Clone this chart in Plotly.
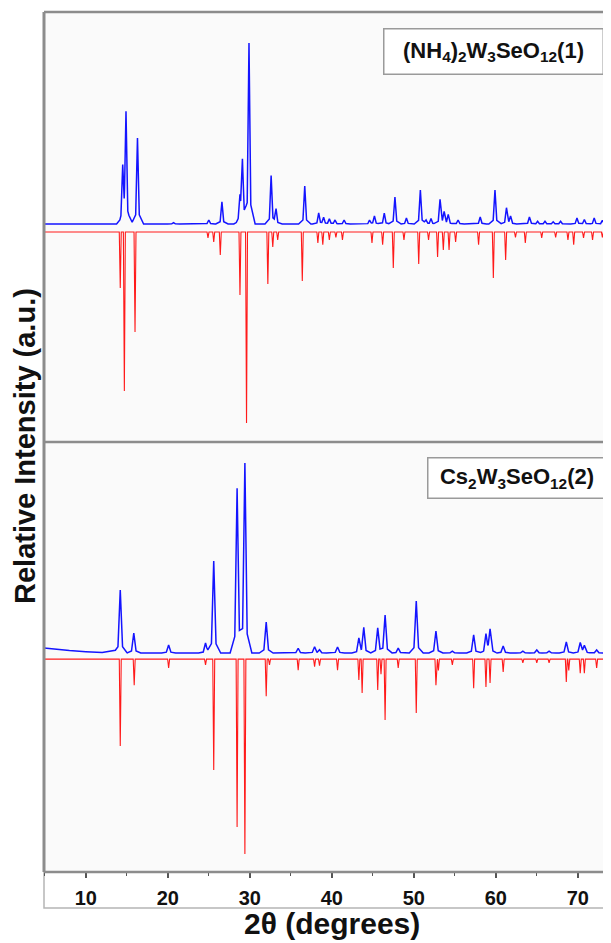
import plotly.graph_objects as go

# ---------------- data ----------------
# Panel 1: (NH4)2W3SeO12 -- observed (blue) peak positions (2theta) and relative heights
obs1_2theta = [14.5, 14.9, 16.3, 20.7, 25.0, 26.6, 28.8, 29.1, 29.9, 32.6, 33.2, 36.7,
               38.4, 39.0, 39.7, 40.4, 41.5, 44.6, 45.2, 46.4, 47.7, 49.1, 50.8, 51.5,
               52.1, 53.2, 53.7, 54.2, 55.4, 58.1, 59.9, 61.3, 61.8, 64.1, 65.1, 66.0,
               67.0, 67.9, 69.9, 70.8, 72.0, 73.0]
obs1_int = [28.7, 60.2, 47.5, 0.8, 2.2, 12.2, 13.3, 34.8, 100.0, 26.5, 7.7, 21.0,
            6.0, 3.5, 2.8, 2.2, 2.2, 2.0, 4.4, 6.0, 14.9, 3.3, 18.8, 2.0,
            3.0, 13.3, 6.0, 5.0, 2.2, 3.9, 18.8, 8.8, 4.0, 3.9, 1.5, 1.5,
            1.2, 1.5, 3.3, 2.5, 3.3, 2.0]
# Panel 1: simulated (red, drawn downward)
sim1_2theta = [14.2, 14.7, 16.0, 24.9, 25.6, 26.4, 28.8, 29.6, 32.2, 32.8, 33.4, 36.4,
               38.3, 38.9, 39.7, 40.5, 41.3, 44.9, 46.2, 47.5, 48.8, 50.6, 51.8, 52.9,
               53.6, 54.3, 55.1, 57.9, 59.7, 61.2, 62.4, 63.6, 65.6, 67.3, 68.8, 69.5,
               70.7, 71.8, 73.0]
sim1_int = [30.9, 87.8, 55.2, 3.3, 5.5, 12.7, 34.8, 105.5, 28.7, 8.3, 4.4, 27.1,
            6.0, 7.0, 4.4, 3.0, 4.4, 6.0, 7.0, 19.9, 4.4, 17.7, 4.4, 13.8,
            10.0, 10.0, 5.5, 7.0, 25.4, 15.5, 3.0, 6.0, 3.3, 3.0, 4.4, 7.0,
            3.3, 4.4, 3.0]

# Panel 2: Cs2W3SeO12 -- observed
obs2_2theta = [14.2, 15.85, 20.1, 24.6, 25.6, 28.45, 29.4, 32.0, 35.9, 37.9, 38.5, 40.7,
               43.3, 43.9, 45.6, 46.5, 48.1, 50.3, 52.7, 54.7, 57.3, 58.8, 59.3, 60.9,
               63.3, 65.0, 66.5, 68.6, 70.3, 70.8, 72.3]
obs2_int = [33.2, 10.5, 4.2, 5.3, 48.4, 86.8, 100.0, 16.3, 2.5, 3.2, 1.6, 3.2,
            7.4, 13.2, 13.2, 20.0, 2.6, 27.4, 11.6, 1.0, 9.5, 9.5, 12.1, 3.7,
            1.0, 1.6, 1.0, 5.8, 5.3, 3.7, 1.6]
# low-angle background of the observed pattern 2
bg2_2theta = [4.9, 6.0, 8.0, 10.0, 12.0, 13.6]
bg2_int = [2.6, 2.1, 1.3, 0.7, 0.25, 0.0]
# Panel 2: simulated
sim2_2theta = [14.2, 15.9, 20.1, 24.6, 25.6, 28.45, 29.4, 32.0, 32.4, 35.9, 37.9, 38.5,
               40.7, 43.3, 43.7, 45.6, 46.0, 46.5, 48.1, 50.3, 52.7, 53.0, 54.7, 57.3,
               58.8, 59.3, 60.9, 63.3, 65.0, 66.5, 68.6, 68.9, 70.3, 70.8, 72.3]
sim2_int = [45.8, 13.7, 4.7, 3.0, 58.4, 88.4, 102.6, 19.5, 3.0, 5.8, 4.0, 3.5,
            5.8, 11.0, 17.9, 16.3, 8.0, 32.1, 4.7, 28.4, 13.7, 6.0, 3.0, 15.3,
            14.7, 12.6, 6.8, 2.0, 2.0, 2.0, 12.1, 6.0, 7.4, 7.4, 4.7]

x_ticks = [10, 20, 30, 40, 50, 60, 70]
label_1 = "<b>(NH<sub>4</sub>)<sub>2</sub>W<sub>3</sub>SeO<sub>12</sub>(1)</b>"
label_2 = "<b>Cs<sub>2</sub>W<sub>3</sub>SeO<sub>12</sub>(2)</b>"
x_title = "<b>2θ (degrees)</b>"
y_title = "<b>Relative Intensity (a.u.)</b>"

# ---------------- drawing helpers ----------------
X_MIN, X_MAX = 4.9, 74.1


def stick_profile(pos, hts, components, start=X_MIN, end=X_MAX):
    """Draw each read peak as narrow triangular sticks (shape only)."""
    xs = {start, end}
    for p in pos:
        xs.add(p)
        for hw, _ in components:
            xs.update([p - hw, p + hw])
    xs = sorted(x for x in xs if start <= x <= end)
    ys = []
    for x in xs:
        v = 0.0
        for p, h in zip(pos, hts):
            for hw, frac in components:
                d = abs(x - p)
                if d < hw:
                    v += h * frac * (1 - d / hw)
        ys.append(v)
    return xs, ys


OBS_SHAPE = [(0.22, 0.85), (0.75, 0.15)]
OBS2_SHAPE = [(0.28, 0.85), (0.85, 0.15)]
SIM_SHAPE = [(0.12, 1.0)]

BLUE = "#1414ff"
RED = "#ff1a1a"

fig = go.Figure()

# panel 1 (top)
x, y = stick_profile(obs1_2theta, obs1_int, OBS_SHAPE)
fig.add_trace(go.Scatter(x=x, y=y, mode="lines", line=dict(color=BLUE, width=1.5),
                         xaxis="x", yaxis="y2", showlegend=False, hoverinfo="skip"))
x, y = stick_profile(sim1_2theta, sim1_int, SIM_SHAPE)
off1 = -4.4
fig.add_trace(go.Scatter(x=x, y=[off1 - v for v in y], mode="lines",
                         line=dict(color=RED, width=1.1),
                         xaxis="x", yaxis="y2", showlegend=False, hoverinfo="skip"))

# panel 2 (bottom)
x, y = stick_profile(obs2_2theta, obs2_int, OBS2_SHAPE, start=bg2_2theta[-1])
x = bg2_2theta[:-1] + x
y = bg2_int[:-1] + y
fig.add_trace(go.Scatter(x=x, y=y, mode="lines", line=dict(color=BLUE, width=1.5),
                         xaxis="x", yaxis="y", showlegend=False, hoverinfo="skip"))
x, y = stick_profile(sim2_2theta, sim2_int, SIM_SHAPE)
off2 = -3.2
fig.add_trace(go.Scatter(x=x, y=[off2 - v for v in y], mode="lines",
                         line=dict(color=RED, width=1.1),
                         xaxis="x", yaxis="y", showlegend=False, hoverinfo="skip"))

FONT = "Liberation Sans, Arial, sans-serif"
FRAME = "#8c8c8c"

# page coordinates are used below; the page body adds an 8px offset
fig.update_layout(
    width=603, height=935,
    margin=dict(l=36, r=0, t=4, b=71),
    paper_bgcolor="white",
    plot_bgcolor="#fafafa",
    font=dict(family=FONT, color="#111111"),
    xaxis=dict(range=[X_MIN, 74.05], anchor="y", tickmode="array", tickvals=x_ticks,
               ticks="outside", ticklen=5, tickwidth=1.5, tickcolor="#555555",
               ticklabelstandoff=3,
               minor=dict(dtick=5, tick0=5, ticks="outside", ticklen=3, tickwidth=1.2,
                          tickcolor="#555555"),
               tickfont=dict(size=20, family=FONT, weight="bold", color="#111111"),
               showgrid=False, zeroline=False, showline=False),
    yaxis=dict(domain=[0, 0.5], range=[-115.3, 111.1], showticklabels=False,
               ticks="", showgrid=False, zeroline=False, showline=False),
    yaxis2=dict(domain=[0.5, 1], range=[-120.4, 117.1], anchor="x", showticklabels=False,
                ticks="", showgrid=False, zeroline=False, showline=False),
    shapes=[
        # frame lines
        dict(type="line", xref="paper", yref="paper", x0=0, x1=1, y0=1, y1=1,
             line=dict(color=FRAME, width=2.5)),
        dict(type="line", xref="paper", yref="paper", x0=0, x1=1, y0=0.5, y1=0.5,
             line=dict(color=FRAME, width=2.5)),
        dict(type="line", xref="paper", yref="paper", x0=0, x1=1, y0=0, y1=0,
             line=dict(color=FRAME, width=2.5)),
        dict(type="line", xref="paper", yref="paper", x0=0, x1=0, y0=0, y1=1,
             line=dict(color=FRAME, width=3)),
        # box around tick labels
        dict(type="rect", xref="paper", yref="paper", x0=0, x1=1.05, y0=-0.0419, y1=0,
             line=dict(color="#b5b5b5", width=1.5), layer="below"),
    ],
    annotations=[
        dict(text=label_1, xref="paper", yref="paper",
             x=(383 - 44) / 567, y=(872 - 28) / 860, xanchor="left", yanchor="top",
             showarrow=False, font=dict(size=22, family=FONT, color="#111111"),
             bgcolor="white", bordercolor="#9a9a9a", borderwidth=1.5, borderpad=5,
             width=208, height=34),
        dict(text=label_2, xref="paper", yref="paper",
             x=(427 - 44) / 567, y=(872 - 457) / 860, xanchor="left", yanchor="top",
             showarrow=False, font=dict(size=22, family=FONT, color="#111111"),
             bgcolor="white", bordercolor="#9a9a9a", borderwidth=1.5, borderpad=4,
             width=169, height=31),
        dict(text=x_title, xref="paper", yref="paper",
             x=(332 - 44) / 567, y=(872 - 923) / 860, xanchor="center", yanchor="middle",
             showarrow=False, font=dict(size=30, family=FONT, color="#111111")),
        dict(text=y_title, xref="paper", yref="paper",
             x=(25 - 44) / 567, y=(872 - 446) / 860, xanchor="center", yanchor="middle",
             textangle=-90, showarrow=False,
             font=dict(size=29, family=FONT, color="#111111")),
    ],
)

fig.write_html("out.html")
